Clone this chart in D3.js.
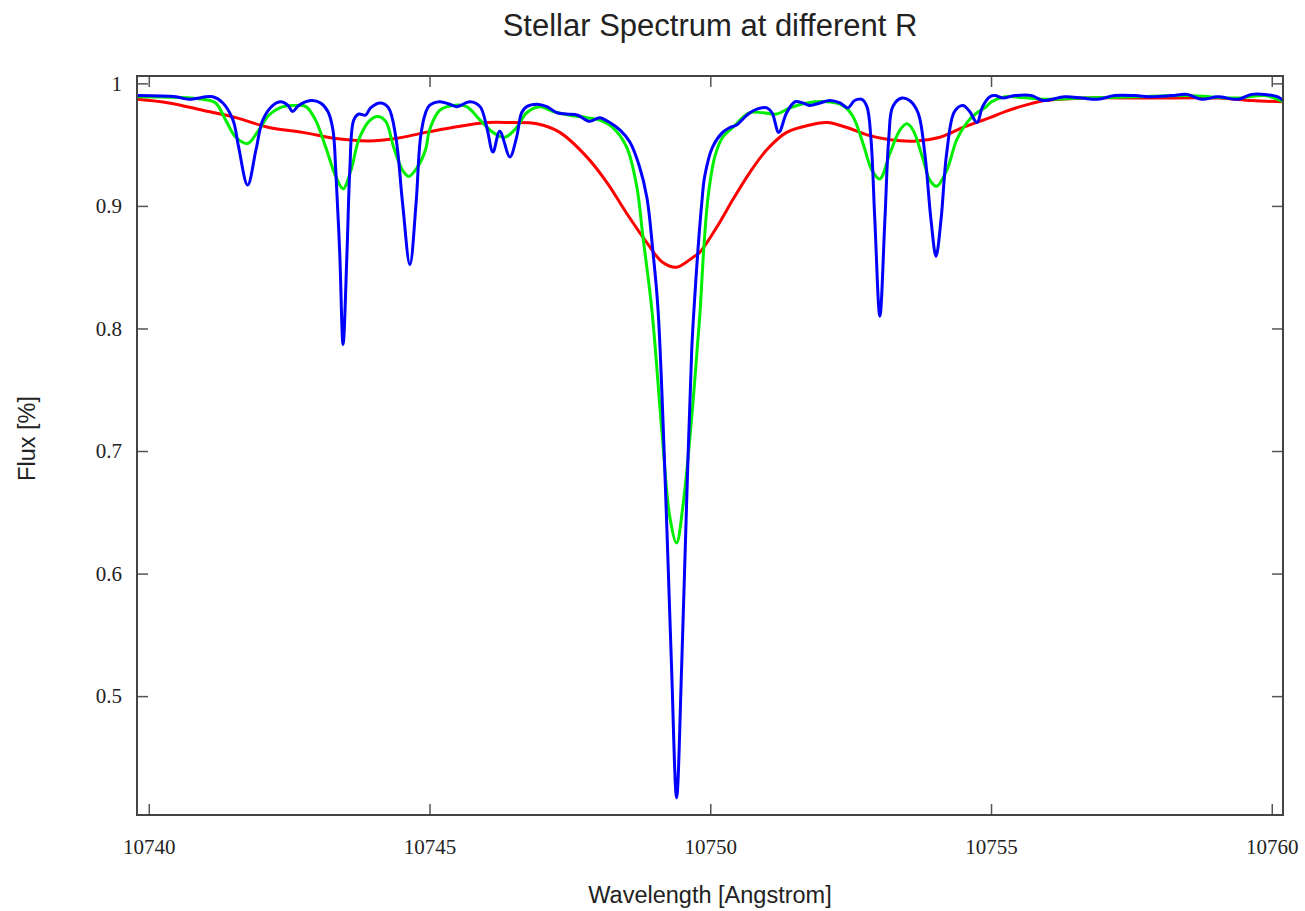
<!DOCTYPE html>
<html>
<head>
<meta charset="utf-8">
<script src="https://cdn.jsdelivr.net/npm/d3@7"></script>
<style>
  body { margin: 0; background: #fff; }
  .tick text { font-family: "Liberation Serif", "DejaVu Serif", serif; font-size: 21px; fill: #222; }
  .tick line { stroke: #555; stroke-width: 1.5; }
  .lbl { font-family: "Liberation Sans", Arial, sans-serif; fill: #222; }
</style>
</head>
<body>
<div id="chart-area"></div>
<script>
// wavelength [Angstrom] / flux values
var redWave = [10739.80, 10740.36, 10740.96, 10741.55, 10742.14, 10742.74, 10743.33, 10743.92, 10744.40, 10744.93,
  10745.41, 10746.02, 10746.43, 10746.91, 10747.32, 10747.80, 10748.16, 10748.51, 10748.87, 10749.15,
  10749.40, 10749.69, 10749.81, 10750.12, 10750.40, 10750.70, 10751.01, 10751.36, 10751.77, 10752.08,
  10752.43, 10752.79, 10753.20, 10753.68, 10754.09, 10754.50, 10754.98, 10755.25, 10755.60, 10755.96,
  10756.67, 10757.86, 10759.04, 10759.64, 10760.20];
var redFlux = [0.987, 0.984, 0.978, 0.972, 0.964, 0.960, 0.955, 0.953, 0.955, 0.960,
  0.964, 0.968, 0.968, 0.967, 0.960, 0.940, 0.919, 0.894, 0.870, 0.854,
  0.850, 0.858, 0.862, 0.883, 0.905, 0.927, 0.946, 0.960, 0.966, 0.968,
  0.964, 0.958, 0.954, 0.953, 0.956, 0.964, 0.972, 0.977, 0.982, 0.986,
  0.988, 0.988, 0.988, 0.986, 0.985];

var greenWave = [10739.80, 10740.96, 10741.19, 10741.37, 10741.55, 10741.76, 10741.96, 10742.14, 10742.39, 10742.62,
  10742.80, 10742.97, 10743.15, 10743.33, 10743.46, 10743.60, 10743.74, 10743.92, 10744.08, 10744.22,
  10744.36, 10744.52, 10744.63, 10744.79, 10744.93, 10745.00, 10745.18, 10745.41, 10745.66, 10745.90,
  10746.13, 10746.34, 10746.55, 10746.73, 10746.96, 10747.20, 10747.50, 10747.80, 10748.03, 10748.26,
  10748.51, 10748.69, 10748.80, 10748.96, 10749.14, 10749.28, 10749.40, 10749.51, 10749.67, 10749.78,
  10749.82, 10749.88, 10749.96, 10750.08, 10750.22, 10750.40, 10750.70, 10750.94, 10751.18, 10751.42,
  10751.72, 10752.08, 10752.36, 10752.54, 10752.72, 10752.88, 10753.02, 10753.20, 10753.38, 10753.50,
  10753.61, 10753.79, 10753.91, 10754.03, 10754.21, 10754.39, 10754.57, 10754.75, 10754.89, 10755.01,
  10755.25, 10755.92, 10756.62, 10757.56, 10758.49, 10759.40, 10759.88, 10760.20];
var greenFlux = [0.989, 0.987, 0.984, 0.970, 0.956, 0.951, 0.962, 0.974, 0.981, 0.982,
  0.981, 0.970, 0.948, 0.924, 0.914, 0.929, 0.954, 0.969, 0.973, 0.969,
  0.948, 0.929, 0.924, 0.932, 0.946, 0.962, 0.978, 0.982, 0.981, 0.970,
  0.960, 0.956, 0.964, 0.976, 0.981, 0.977, 0.974, 0.972, 0.970, 0.964,
  0.948, 0.916, 0.875, 0.815, 0.715, 0.646, 0.625, 0.654, 0.728, 0.791,
  0.815, 0.862, 0.907, 0.940, 0.956, 0.964, 0.976, 0.976, 0.975, 0.980,
  0.984, 0.985, 0.982, 0.973, 0.951, 0.929, 0.922, 0.943, 0.962, 0.967,
  0.962, 0.938, 0.921, 0.916, 0.929, 0.954, 0.968, 0.976, 0.980, 0.985,
  0.989, 0.987, 0.988, 0.989, 0.990, 0.988, 0.990, 0.985];

var blueWave = [10739.80, 10740.48, 10740.71, 10741.14, 10741.32, 10741.50, 10741.60, 10741.76, 10741.91, 10742.03,
  10742.21, 10742.35, 10742.48, 10742.56, 10742.67, 10742.89, 10743.06, 10743.19, 10743.28, 10743.33,
  10743.40, 10743.46, 10743.53, 10743.58, 10743.65, 10743.74, 10743.86, 10743.95, 10744.13, 10744.27,
  10744.40, 10744.52, 10744.65, 10744.76, 10744.84, 10744.93, 10745.00, 10745.18, 10745.36, 10745.49,
  10745.72, 10745.90, 10746.02, 10746.13, 10746.25, 10746.43, 10746.55, 10746.64, 10746.73, 10746.91,
  10747.09, 10747.27, 10747.44, 10747.64, 10747.85, 10748.03, 10748.21, 10748.39, 10748.57, 10748.74,
  10748.87, 10748.98, 10749.07, 10749.23, 10749.31, 10749.40, 10749.49, 10749.58, 10749.67, 10749.72,
  10749.78, 10749.85, 10749.90, 10750.04, 10750.22, 10750.35, 10750.47, 10750.65, 10750.83, 10751.01,
  10751.10, 10751.22, 10751.36, 10751.51, 10751.65, 10751.77, 10751.95, 10752.13, 10752.31, 10752.45,
  10752.57, 10752.70, 10752.79, 10752.86, 10752.93, 10753.02, 10753.11, 10753.18, 10753.25, 10753.41,
  10753.55, 10753.70, 10753.82, 10753.93, 10754.02, 10754.11, 10754.21, 10754.35, 10754.50, 10754.62,
  10754.75, 10754.85, 10754.98, 10755.07, 10755.21, 10755.42, 10755.73, 10755.92, 10756.31, 10756.62,
  10756.90, 10757.20, 10757.56, 10757.86, 10758.22, 10758.49, 10758.75, 10759.04, 10759.40, 10759.64,
  10759.88, 10760.11, 10760.20];
var blueFlux = [0.990, 0.989, 0.987, 0.989, 0.984, 0.970, 0.948, 0.917, 0.946, 0.970,
  0.982, 0.985, 0.982, 0.977, 0.982, 0.986, 0.984, 0.977, 0.962, 0.929,
  0.862, 0.787, 0.862, 0.929, 0.970, 0.975, 0.974, 0.980, 0.984, 0.980,
  0.956, 0.902, 0.852, 0.902, 0.956, 0.976, 0.982, 0.985, 0.983, 0.981,
  0.985, 0.981, 0.964, 0.944, 0.961, 0.940, 0.956, 0.976, 0.981, 0.983,
  0.981, 0.976, 0.975, 0.974, 0.969, 0.972, 0.968, 0.962, 0.952, 0.932,
  0.907, 0.862, 0.815, 0.633, 0.524, 0.417, 0.524, 0.660, 0.783, 0.823,
  0.864, 0.903, 0.924, 0.948, 0.960, 0.964, 0.966, 0.974, 0.979, 0.980,
  0.976, 0.960, 0.976, 0.985, 0.984, 0.982, 0.984, 0.986, 0.984, 0.980,
  0.986, 0.987, 0.981, 0.956, 0.889, 0.810, 0.889, 0.956, 0.981, 0.988,
  0.986, 0.976, 0.943, 0.889, 0.859, 0.889, 0.943, 0.977, 0.982, 0.977,
  0.968, 0.981, 0.989, 0.990, 0.988, 0.990, 0.990, 0.986, 0.989, 0.988,
  0.987, 0.990, 0.990, 0.989, 0.990, 0.991, 0.987, 0.989, 0.987, 0.991,
  0.991, 0.989, 0.986];

var xTicks = [10740, 10745, 10750, 10755, 10760];
var yTicks = [0.5, 0.6, 0.7, 0.8, 0.9, 1];

var margin = {top: 76, bottom: 96, left: 137, right: 22};
var width = 1305 - margin.left - margin.right;
var height = 911 - margin.top - margin.bottom;

var svg = d3.select("#chart-area").append("svg")
    .attr("width", 1305)
    .attr("height", 911);

var g = svg.append("g")
    .attr("transform", "translate(" + margin.left + "," + margin.top + ")");

var x = d3.scaleLinear()
    .domain([10739.79, 10760.2])
    .range([0, width]);

var y = d3.scaleLinear()
    .domain([0.403, 1.006])
    .range([height, 0]);

// axes, ticks pointing inward, gnuplot style
g.append("g")
    .attr("transform", "translate(0," + height + ")")
    .call(d3.axisBottom(x).tickValues(xTicks).tickSize(-11).tickPadding(24).tickFormat(d3.format("d")))
    .call(a => a.select(".domain").remove());

g.append("g")
    .call(d3.axisTop(x).tickValues(xTicks).tickSize(-11).tickFormat(""))
    .call(a => a.select(".domain").remove());

g.append("g")
    .call(d3.axisLeft(y).tickValues(yTicks).tickSize(-11).tickPadding(15).tickFormat(d => d === 1 ? "1" : d3.format(".1f")(d)))
    .call(a => a.select(".domain").remove());

g.append("g")
    .attr("transform", "translate(" + width + ",0)")
    .call(d3.axisRight(y).tickValues(yTicks).tickSize(-11).tickFormat(""))
    .call(a => a.select(".domain").remove());

var series = [
    {wave: redWave, flux: redFlux, color: "#ff0000"},
    {wave: greenWave, flux: greenFlux, color: "#00ee00"},
    {wave: blueWave, flux: blueFlux, color: "#0000ff"}
];

var line = d3.line()
    .x(d => x(d[0]))
    .y(d => y(d[1]))
    .curve(d3.curveCatmullRom.alpha(0.5));

g.append("defs").append("clipPath").attr("id", "clip")
    .append("rect").attr("width", width).attr("height", height);

g.selectAll(".series")
    .data(series)
    .enter()
    .append("path")
    .attr("class", "series")
    .attr("clip-path", "url(#clip)")
    .attr("fill", "none")
    .attr("stroke", d => d.color)
    .attr("stroke-width", 3)
    .attr("stroke-linejoin", "round")
    .attr("d", d => line(d.wave.map((w, i) => [w, d.flux[i]])));

// frame
g.append("rect")
    .attr("width", width)
    .attr("height", height)
    .attr("fill", "none")
    .attr("stroke", "#444")
    .attr("stroke-width", 2);

svg.append("text")
    .attr("class", "lbl")
    .attr("x", margin.left + width / 2)
    .attr("y", 36)
    .attr("font-size", "31px")
    .attr("text-anchor", "middle")
    .text("Stellar Spectrum at different R");

svg.append("text")
    .attr("class", "lbl")
    .attr("x", margin.left + width / 2)
    .attr("y", 903)
    .attr("font-size", "23.5px")
    .attr("text-anchor", "middle")
    .text("Wavelength [Angstrom]");

svg.append("text")
    .attr("class", "lbl")
    .attr("transform", "translate(35," + (margin.top + height / 2 - 7) + ") rotate(-90)")
    .attr("font-size", "23.5px")
    .attr("text-anchor", "middle")
    .text("Flux [%]");
</script>
</body>
</html>
